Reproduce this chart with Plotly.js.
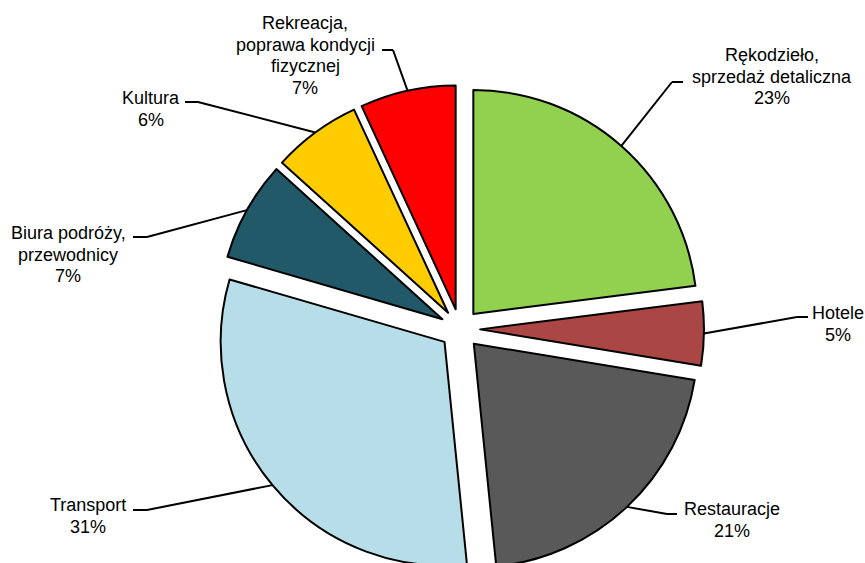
<!DOCTYPE html>
<html>
<head>
<meta charset="utf-8">
<script src="https://cdn.plot.ly/plotly-3.0.1.min.js"></script>
<style>
  html, body { margin: 0; padding: 0; overflow: hidden; background: #fff; }
  #chart { width: 865px; height: 580px; }
</style>
</head>
<body>
<div id="chart"></div>
<script>
// ---- data ----
var categories = ["Rękodzieło, sprzedaż detaliczna", "Hotele", "Restauracje", "Transport",
                  "Biura podróży, przewodnicy", "Kultura", "Rekreacja, poprawa kondycji fizycznej"];
var labelLines = [
  ["Rękodzieło,", "sprzedaż detaliczna"],
  ["Hotele"],
  ["Restauracje"],
  ["Transport"],
  ["Biura podróży,", "przewodnicy"],
  ["Kultura"],
  ["Rekreacja,", "poprawa kondycji", "fizycznej"]
];
var values = [23.0, 4.6, 20.8, 31.1, 7.2, 6.4, 6.9];

// ---- styles ----
var colors = ["#92D050", "#AA4643", "#595959", "#B7DEE8", "#215968", "#FFCC00", "#FF0000"];
var PULL = 0.09;
var FONT = "Liberation Sans, Arial, sans-serif";
var MARGIN = {l: 55, r: 0, t: 85, b: 7};
var W = 865, H = 580;
var LINE_GAP = 21.7;
// label layout (pixels): text center x, first line y, elbow point, end of horizontal tick
var labelPos = [
  {x: 772, y: 55,  elbow: [672, 82],  end: [683, 82]},
  {x: 838, y: 313, elbow: [797, 317], end: [808, 317]},
  {x: 732, y: 509, elbow: [667, 514], end: [677, 514]},
  {x: 88,  y: 505, elbow: [147, 510], end: [133, 510]},
  {x: 68,  y: 233, elbow: [147, 237], end: [133, 237]},
  {x: 151, y: 98,  elbow: [198, 102], end: [185, 102]},
  {x: 305, y: 23,  elbow: [393, 50],  end: [382, 50]}
];

var trace = {
  type: "pie",
  labels: categories,
  values: values,
  sort: false,
  direction: "clockwise",
  rotation: 0,
  pull: PULL,
  textinfo: "none",
  hoverinfo: "label+percent",
  marker: {colors: colors, line: {color: "#000000", width: 2}},
  showlegend: false
};

var layout = {
  width: W, height: H,
  margin: MARGIN,
  paper_bgcolor: "#ffffff",
  plot_bgcolor: "#ffffff",
  showlegend: false,
  font: {family: FONT, size: 18, color: "#000"}
};

var gd = document.getElementById("chart");
Plotly.newPlot(gd, [trace], layout, {displayModeBar: false, staticPlot: true}).then(function () {
  var pw = W - MARGIN.l - MARGIN.r, ph = H - MARGIN.t - MARGIN.b;
  var cd0 = (gd.calcdata && gd.calcdata[0] && gd.calcdata[0][0]) || {};
  var cx = cd0.cx != null ? cd0.cx : MARGIN.l + pw / 2;
  var cy = cd0.cy != null ? cd0.cy : MARGIN.t + ph / 2;
  var r = cd0.r != null ? cd0.r : Math.min(pw, ph) / 2 / (1 + PULL);
  function px2x(px) { return (px - MARGIN.l) / pw; }
  function py2y(py) { return 1 - (py - MARGIN.t) / ph; }

  var total = values.reduce(function (a, b) { return a + b; }, 0);
  var cum = 0;
  var shapes = [], annotations = [];
  values.forEach(function (v, i) {
    var mid = (cum + v / 2) / total * 2 * Math.PI;
    cum += v;
    var dx = Math.sin(mid), dy = -Math.cos(mid);
    var ax = cx + (1 + PULL) * r * dx, ay = cy + (1 + PULL) * r * dy;
    var lp = labelPos[i];
    var line = {color: "#000", width: 2};
    shapes.push({type: "line", xref: "paper", yref: "paper", line: line,
      x0: px2x(ax), y0: py2y(ay), x1: px2x(lp.elbow[0]), y1: py2y(lp.elbow[1])});
    shapes.push({type: "line", xref: "paper", yref: "paper", line: line,
      x0: px2x(lp.elbow[0]), y0: py2y(lp.elbow[1]), x1: px2x(lp.end[0]), y1: py2y(lp.end[1])});
    var lines = labelLines[i].concat([Math.round(v / total * 100) + "%"]);
    lines.forEach(function (t, k) {
      annotations.push({xref: "paper", yref: "paper", showarrow: false,
        x: px2x(lp.x), y: py2y(lp.y + k * LINE_GAP), xanchor: "center", yanchor: "middle",
        text: t, font: {family: FONT, size: 18, color: "#000"}});
    });
  });
  return Plotly.relayout(gd, {shapes: shapes, annotations: annotations});
});
</script>
</body>
</html>
